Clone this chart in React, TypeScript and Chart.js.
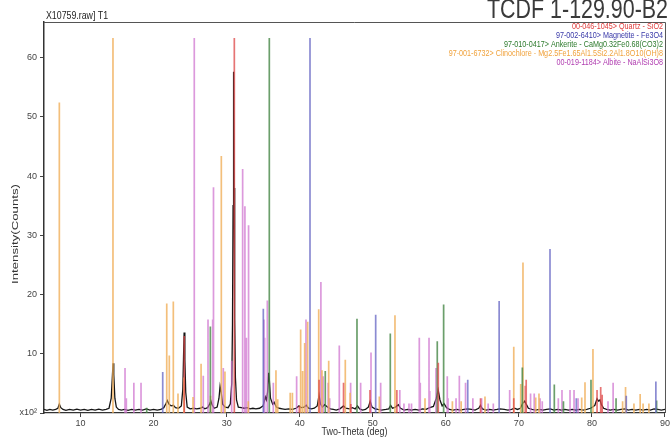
import React, { useEffect, useRef } from "react";
import { Chart, registerables } from "chart.js";
Chart.register(...registerables);

const xTicks = [10, 20, 30, 40, 50, 60, 70, 80, 90];
const yTicks = [0, 10, 20, 30, 40, 50, 60];

const headerText = "X10759.raw] T1";
const bigTitle = "TCDF 1-129.90-B2";
const xTitle = "Two-Theta (deg)";
const yTitle = "Intensity(Counts)";

const phaseLabels = [
  "00-046-1045> Quartz - SiO2",
  "97-002-6410> Magnetite - Fe3O4",
  "97-010-0417> Ankerite - CaMg0.32Fe0.68(CO3)2",
  "97-001-6732> Clinochlore - Mg2.5Fe1.65Al1.5Si2.2Al1.8O10(OH)8",
  "00-019-1184> Albite - NaAlSi3O8",
];
const phaseTextColors = ["#e03a3a", "#3838a8", "#2c7a2c", "#f0a23c", "#b03cb0"];
const stickColors = [
  "rgba(222,70,70,0.75)",
  "rgba(100,100,195,0.75)",
  "rgba(70,135,70,0.8)",
  "rgba(240,175,90,0.8)",
  "rgba(205,110,205,0.7)",
];

// [2-theta, intensity x10^2]
const quartz = [
  [24.2, 13], [31.05, 63.3], [39.95, 1.2], [42.65, 5.6], [46.0, 5.1], [47.0, 1.5],
  [49.62, 3.9], [53.3, 3.9], [58.97, 8.5], [64.75, 2.5], [69.3, 2.5], [70.88, 4.6],
  [71.0, 5.6], [80.7, 3.9], [81.2, 4.4], [81.4, 3.1],
];
const magnetite = [
  [21.25, 6.9], [35.02, 17.6], [41.41, 63.3], [50.4, 16.6], [63.0, 5.6], [67.3, 18.9],
  [74.26, 27.7], [77.86, 2.5], [84.7, 2.9], [88.75, 5.3],
];
const ankerite = [
  [19.06, 0.9], [27.77, 14.6], [35.84, 63.3], [43.5, 7.1], [47.84, 15.9], [52.4, 13.4],
  [58.83, 12.1], [59.7, 18.3], [70.47, 7.7], [74.85, 4.8], [76.1, 2.0], [79.87, 5.6],
  [83.3, 2.5], [88.85, 2.1],
];
const clinochlore = [
  [7.1, 52.4], [14.44, 63.3], [21.8, 18.5], [22.15, 9.7], [22.7, 18.8], [23.34, 3.3],
  [24.15, 6.0], [25.4, 2.7], [26.5, 8.3], [27.8, 2.9], [29.27, 43.4], [29.77, 7.0],
  [32.96, 2.0], [36.75, 7.2], [36.99, 2.3], [38.7, 3.4], [39.0, 3.4], [40.13, 14.1],
  [40.4, 7.1], [40.68, 11.8], [41.09, 15.4], [42.6, 17.5], [43.05, 7.2], [43.97, 8.8],
  [46.24, 9.0], [46.9, 3.4], [50.9, 2.8], [53.04, 16.5], [57.15, 2.5], [60.9, 2.0],
  [62.1, 2.0], [65.36, 2.8], [69.3, 11.2], [70.25, 4.9], [70.56, 25.4], [72.3, 2.6],
  [72.75, 3.3], [78.6, 2.6], [79.05, 5.2], [80.14, 10.8], [84.2, 2.0], [84.6, 4.4],
  [85.75, 1.6], [86.6, 3.2], [87.0, 1.6], [87.8, 1.6],
];
const albite = [
  [16.09, 7.6], [16.27, 2.5], [17.3, 5.1], [18.28, 5.1], [25.57, 63.3], [26.8, 6.3],
  [27.45, 15.8], [28.09, 15.8], [28.2, 38.1], [29.54, 7.6], [30.69, 8.8], [32.19, 41.2],
  [32.5, 34.9], [32.7, 12.7], [33.0, 31.7], [35.1, 15.8], [35.2, 12.7], [35.57, 19.0],
  [36.39, 5.1], [39.58, 6.2], [40.86, 15.8], [42.9, 22.1], [43.2, 6.2], [43.9, 5.1],
  [44.1, 2.5], [45.42, 11.4], [46.97, 5.1], [48.34, 5.1], [49.76, 10.2], [51.08, 5.1],
  [53.7, 3.9], [54.27, 1.6], [54.96, 1.6], [55.3, 1.6], [56.37, 12.7], [56.5, 5.1],
  [57.7, 12.7], [57.8, 3.7], [58.65, 7.6], [60.2, 6.2], [60.3, 2.5], [61.4, 2.5],
  [61.85, 6.3], [62.7, 5.1], [63.7, 2.5], [64.9, 2.5], [65.8, 1.6], [66.5, 1.6],
  [68.74, 3.9], [71.6, 3.3], [72.1, 3.3], [72.9, 2.5], [73.2, 2.0], [75.4, 2.5],
  [75.9, 3.9], [77.0, 3.9], [77.55, 3.9], [78.1, 2.5], [82.2, 2.0], [82.9, 5.1],
];
const phases = [quartz, magnetite, ankerite, clinochlore, albite];

const measured = [
  [5.0, 0.6], [5.4, 0.45], [5.8, 0.6], [6.2, 0.5], [6.6, 0.6], [6.9, 0.8], [7.1, 1.5], [7.3, 0.9],
  [7.6, 0.6], [8.0, 0.45], [8.5, 0.6], [9.0, 0.5], [9.5, 0.65], [10.0, 0.5], [10.5, 0.6], [11.0, 0.45],
  [11.5, 0.6], [12.0, 0.5], [12.5, 0.65], [13.0, 0.5], [13.5, 0.6], [13.9, 0.8], [14.2, 2.5], [14.35, 6.0],
  [14.45, 8.4], [14.55, 6.5], [14.7, 2.5], [14.9, 1.0], [15.2, 0.6], [15.6, 0.5], [16.0, 0.6], [16.5, 0.45],
  [17.0, 0.6], [17.5, 0.5], [18.0, 0.6], [18.5, 0.5], [19.0, 0.7], [19.5, 0.5], [20.0, 0.6], [20.5, 0.5],
  [21.0, 0.6], [21.4, 0.9], [21.7, 1.6], [21.88, 2.1], [22.1, 1.5], [22.4, 1.2], [22.7, 1.3], [23.0, 0.9],
  [23.4, 0.8], [23.8, 1.2], [24.0, 4.0], [24.1, 9.5], [24.18, 13.6], [24.28, 9.0], [24.4, 3.5], [24.6, 1.0],
  [25.0, 0.7], [25.5, 0.8], [25.9, 0.7], [26.4, 0.8], [26.7, 1.0], [27.0, 0.7], [27.4, 0.9], [27.7, 1.6],
  [27.85, 2.0], [28.0, 1.4], [28.3, 0.8], [28.7, 1.0], [28.95, 2.5], [29.1, 4.5], [29.25, 3.5], [29.45, 1.5],
  [29.8, 1.0], [30.2, 0.9], [30.5, 1.5], [30.7, 5.0], [30.8, 15], [30.88, 35], [30.95, 57.6], [31.02, 38],
  [31.1, 16], [31.2, 6], [31.35, 2.2], [31.6, 1.0], [32.0, 0.9], [32.4, 0.8], [32.8, 0.9], [33.2, 0.7],
  [33.6, 0.8], [34.0, 0.7], [34.5, 0.8], [35.0, 1.2], [35.3, 2.7], [35.45, 2.2], [35.6, 3.5], [35.75, 6.8],
  [35.85, 5.5], [36.0, 2.5], [36.3, 1.5], [36.5, 1.8], [36.8, 1.0], [37.2, 0.8], [37.6, 0.7], [38.0, 0.6],
  [38.5, 0.7], [39.0, 0.6], [39.5, 0.8], [39.9, 1.2], [40.2, 0.9], [40.6, 1.0], [40.9, 1.3], [41.2, 0.8],
  [41.6, 0.7], [42.0, 0.8], [42.4, 1.2], [42.65, 3.0], [42.85, 1.5], [43.1, 1.0], [43.4, 1.4], [43.8, 1.0],
  [44.2, 0.7], [44.6, 0.6], [45.0, 0.5], [45.5, 0.7], [46.0, 1.2], [46.3, 0.8], [46.8, 0.7], [47.2, 0.9],
  [47.6, 0.7], [47.9, 1.2], [48.2, 0.7], [48.6, 0.5], [49.0, 0.6], [49.4, 1.0], [49.65, 2.0], [49.9, 1.0],
  [50.3, 0.7], [50.7, 0.6], [51.2, 0.5], [51.8, 0.6], [52.2, 0.7], [52.45, 1.3], [52.7, 0.8], [53.1, 1.0],
  [53.5, 1.4], [53.8, 0.8], [54.3, 0.5], [54.8, 0.6], [55.3, 0.5], [55.8, 0.6], [56.3, 0.5], [56.8, 0.7],
  [57.3, 0.6], [57.8, 0.9], [58.3, 1.1], [58.7, 2.5], [58.95, 3.9], [59.2, 2.2], [59.5, 1.2], [59.75, 1.6],
  [60.1, 0.9], [60.5, 0.6], [61.0, 0.5], [61.5, 0.6], [62.0, 0.5], [62.5, 0.6], [63.0, 0.7], [63.5, 0.6],
  [64.0, 0.5], [64.5, 0.8], [64.75, 1.3], [65.0, 0.7], [65.5, 0.5], [66.0, 0.6], [66.5, 0.5], [67.0, 0.6],
  [67.4, 0.7], [68.0, 0.6], [68.5, 0.5], [69.0, 0.6], [69.4, 0.8], [69.8, 0.6], [70.2, 0.8], [70.5, 1.6],
  [70.8, 2.0], [71.0, 1.5], [71.3, 0.8], [71.8, 0.6], [72.3, 0.5], [72.8, 0.6], [73.3, 0.5], [73.8, 0.6],
  [74.3, 0.7], [74.8, 0.5], [75.3, 0.6], [75.8, 0.5], [76.3, 0.6], [76.8, 0.5], [77.3, 0.6], [77.8, 0.5],
  [78.3, 0.6], [78.8, 0.5], [79.3, 0.6], [79.8, 0.8], [80.1, 1.0], [80.4, 1.3], [80.7, 2.4], [80.9, 2.0],
  [81.1, 2.2], [81.3, 1.4], [81.6, 0.8], [82.0, 0.6], [82.5, 0.5], [83.0, 0.6], [83.5, 0.5], [84.0, 0.6],
  [84.5, 0.7], [85.0, 0.5], [85.5, 0.6], [86.0, 0.5], [86.5, 0.6], [87.0, 0.5], [87.5, 0.6], [88.0, 0.5],
  [88.5, 0.7], [89.0, 0.6], [89.5, 0.5], [90.0, 0.6],
];

const FONT = "'Liberation Sans', Arial, sans-serif";

function sticksToData(sticks: number[][]) {
  const out: any[] = [];
  for (const [x, h] of sticks) {
    out.push({ x, y: 0 }, { x, y: h }, { x, y: null });
  }
  return out;
}

// draw text horizontally scaled by sx (condensed look)
function scaledText(ctx: any, text: string, x: number, y: number, sx: number, align: string) {
  ctx.save();
  ctx.translate(x, y);
  ctx.scale(sx, 1);
  ctx.textAlign = align;
  ctx.fillText(text, 0, 0);
  ctx.restore();
}

const decorPlugin = {
  id: "decor",
  afterDraw(chart: any) {
    const ctx = chart.ctx;
    const a = chart.chartArea;
    ctx.save();
    // frame top & right
    ctx.strokeStyle = "#555";
    ctx.lineWidth = 1;
    ctx.beginPath();
    ctx.moveTo(a.left, a.top + 0.5);
    ctx.lineTo(a.right + 0.5, a.top + 0.5);
    ctx.lineTo(a.right + 0.5, a.bottom);
    ctx.stroke();
    ctx.textBaseline = "alphabetic";
    // header
    ctx.fillStyle = "#222";
    ctx.font = "10px " + FONT;
    scaledText(ctx, headerText, 46, 19, 0.88, "left");
    // big title
    ctx.fillStyle = "#3a3a3a";
    ctx.font = "27px " + FONT;
    {
      const w = ctx.measureText(bigTitle).width;
      scaledText(ctx, bigTitle, 487, 18, 181 / w, "left");
    }
    // legend
    ctx.font = "9px " + FONT;
    phaseLabels.forEach((t, i) => {
      ctx.fillStyle = phaseTextColors[i];
      scaledText(ctx, t, a.right - 2, 29 + i * 9, 0.8, "right");
    });
    // axis titles
    ctx.fillStyle = "#333";
    ctx.textBaseline = "middle";
    ctx.font = "10px " + FONT;
    {
      const w = ctx.measureText(xTitle).width;
      scaledText(ctx, xTitle, (a.left + a.right) / 2, 432, 66 / w, "center");
    }
    ctx.font = "9.5px " + FONT;
    {
      const w = ctx.measureText(yTitle).width;
      ctx.translate(15, 234);
      ctx.rotate(-Math.PI / 2);
      scaledText(ctx, yTitle, 0, 0, 100 / w, "center");
    }
    ctx.restore();
  },
};

export default function App() {
  const ref = useRef<HTMLCanvasElement>(null);
  useEffect(() => {
    if (!ref.current) return;
    const datasets: any[] = phases.map((p, i) => ({
      label: phaseLabels[i],
      data: sticksToData(p),
      borderColor: stickColors[i],
      borderWidth: 1.7,
      pointRadius: 0,
      spanGaps: false,
      order: 1,
    }));
    datasets.push({
      label: "measured",
      data: measured.map(([x, y]) => ({ x, y })),
      borderColor: "#151515",
      borderWidth: 1.3,
      pointRadius: 0,
      tension: 0,
      order: 10,
    });
    const chart = new Chart(ref.current, {
      type: "line",
      data: { datasets },
      options: {
        animation: false,
        responsive: false,
        devicePixelRatio: 1,
        layout: { padding: { top: 22, right: 6, left: 0, bottom: 0 } },
        plugins: { legend: { display: false }, tooltip: { enabled: false } },
        scales: {
          x: {
            type: "linear",
            min: 5,
            max: 90,
            afterBuildTicks: (s: any) => { s.ticks = xTicks.map((v) => ({ value: v })); },
            afterFit: (s: any) => { s.height = 26; },
            grid: { display: true, drawOnChartArea: false, drawTicks: true, tickLength: 4, color: "#444" },
            border: { display: true, color: "#333", width: 1.2 },
            ticks: { font: { family: FONT, size: 9 }, color: "#444", padding: 1, maxRotation: 0 },
          },
          y: {
            type: "linear",
            min: 0,
            max: 66,
            afterBuildTicks: (s: any) => { s.ticks = yTicks.map((v) => ({ value: v })); },
            afterFit: (s: any) => { s.width = 44; },
            grid: { display: true, drawOnChartArea: false, drawTicks: true, tickLength: 4, color: "#444" },
            border: { display: true, color: "#333", width: 1.5 },
            ticks: {
              font: { family: FONT, size: 9 },
              color: "#444",
              padding: 3,
              callback: (v: any) => (v === 0 ? "x10²" : String(v)),
            },
          },
        },
      },
      plugins: [decorPlugin],
    } as any);
    return () => chart.destroy();
  }, []);
  return (
    <div style={{ position: "fixed", left: 0, top: 0, width: 671, height: 439, background: "#fff" }}>
      <canvas ref={ref} width={671} height={439} style={{ display: "block" }} />
    </div>
  );
}
